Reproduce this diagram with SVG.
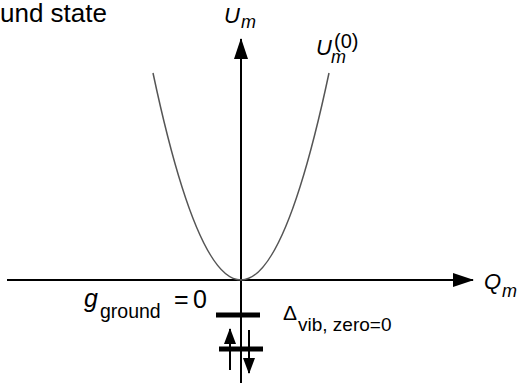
<svg xmlns="http://www.w3.org/2000/svg" width="523" height="383" viewBox="0 0 523 383">
<style>
text{font-family:"Liberation Sans",Arial,sans-serif;fill:#000}
.it{font-style:italic}
.ax{stroke:#000;stroke-width:2;fill:none}
.lvl{stroke:#000;stroke-width:5;fill:none}
.curve{stroke:#555;stroke-width:1.5;fill:none}
</style>
<defs>
<marker id="ah" markerUnits="userSpaceOnUse" markerWidth="22" markerHeight="14" refX="20" refY="7" orient="auto" viewBox="0 0 22 14">
<path d="M0,0 L21,7 L0,14 Z" fill="#000"/>
</marker>
<marker id="sh" markerUnits="userSpaceOnUse" markerWidth="16" markerHeight="12" refX="15" refY="6" orient="auto" viewBox="0 0 16 12">
<path d="M0,0 L16,6 L0,12 Z" fill="#000"/>
</marker>
</defs>
<text x="0" y="22" font-size="26">und state</text>
<g id="connectors">
<line class="ax" x1="241" y1="383" x2="241" y2="39" marker-end="url(#ah)"/>
<line class="ax" x1="7" y1="280" x2="473" y2="280" marker-end="url(#ah)"/>
</g>
<g id="potential">
<path class="curve" d="M153,73 Q241,487 329,73"/>
</g>
<g id="levels">
<line class="lvl" x1="216" y1="315" x2="260" y2="315"/>
<line class="lvl" x1="219" y1="349" x2="263" y2="349"/>
<line class="ax" x1="230" y1="370" x2="230" y2="329" marker-end="url(#sh)"/>
<line class="ax" x1="249" y1="330" x2="249" y2="373" marker-end="url(#sh)"/>
</g>
<g id="label-Um">
<text x="224" y="23" font-size="22" class="it">U</text>
<text x="241" y="28" font-size="18" class="it">m</text>
</g>
<g id="label-Um0">
<text x="316" y="55" font-size="22" class="it">U</text>
<text x="331" y="63" font-size="18" class="it">m</text>
<text x="334" y="48" font-size="20">(0)</text>
</g>
<g id="label-Qm">
<text x="484" y="289" font-size="22" class="it">Q</text>
<text x="502" y="297" font-size="18" class="it">m</text>
</g>
<g id="label-g">
<text x="84" y="307" font-size="25" class="it">g</text>
<text x="100" y="318" font-size="19.5">ground</text>
<text x="174" y="308" font-size="25">=</text>
<text x="193" y="308" font-size="25">0</text>
</g>
<g id="label-delta">
<text x="283" y="320" font-size="21">Δ</text>
<text x="298" y="331" font-size="19">vib, zero=0</text>
</g>
</svg>
